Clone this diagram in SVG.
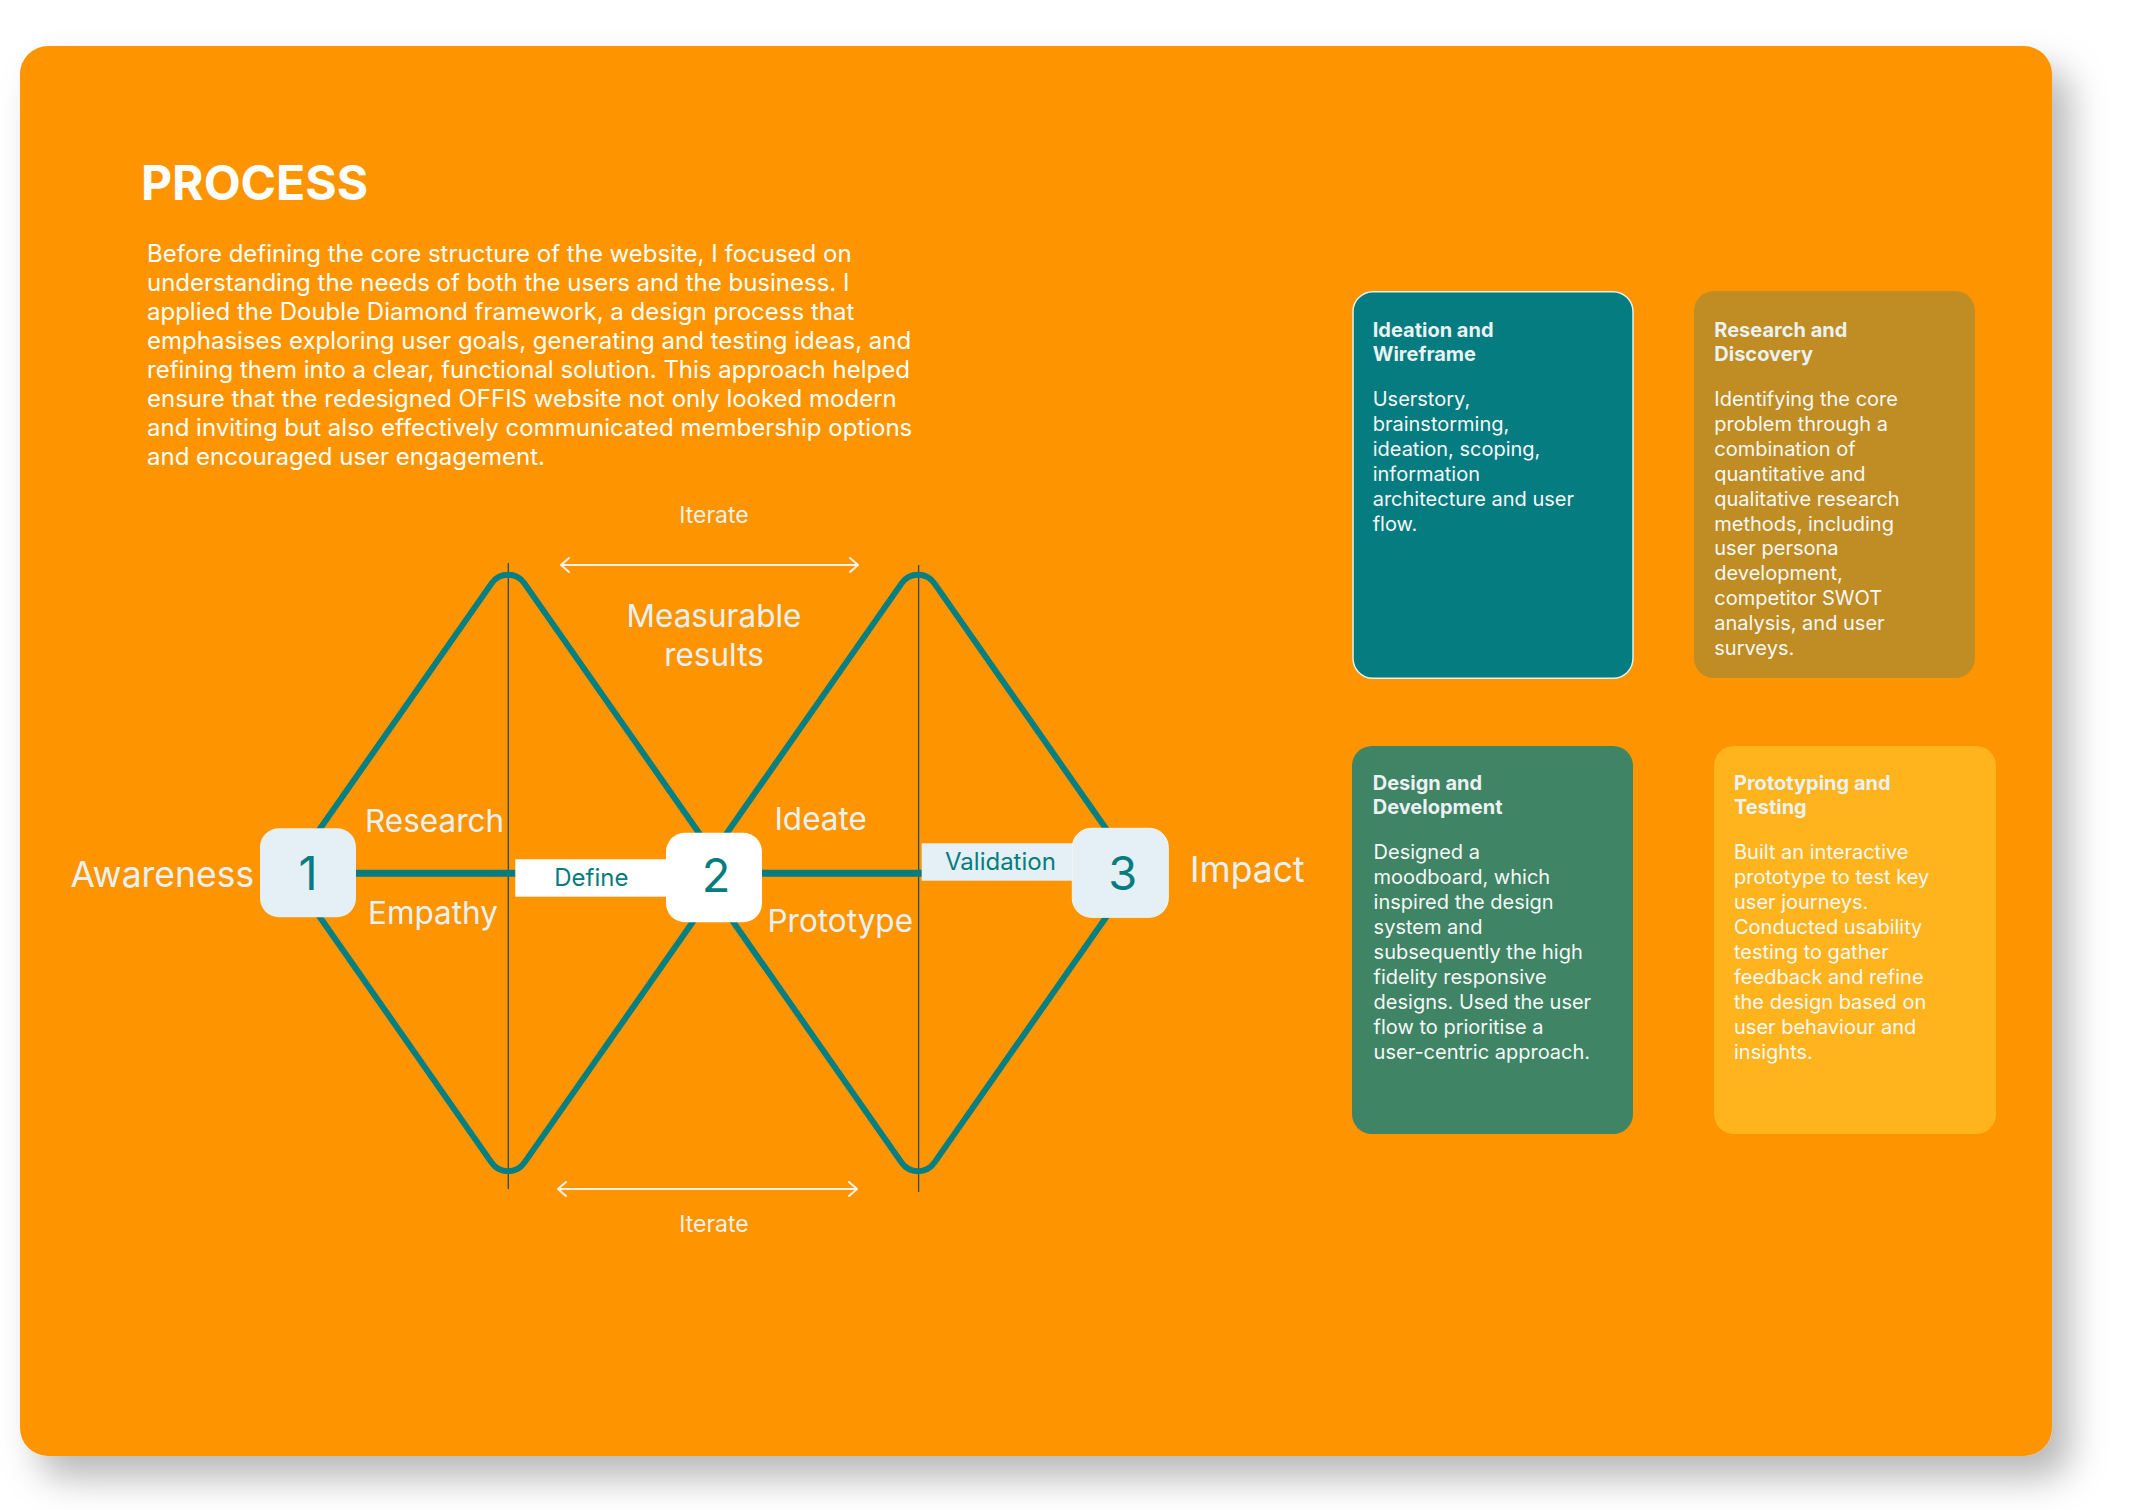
<svg xmlns="http://www.w3.org/2000/svg" width="2133" height="1510" viewBox="0 0 2133 1510">
<defs>
<filter id="shadow" x="-10%" y="-10%" width="120%" height="125%">
<feDropShadow dx="18" dy="22" stdDeviation="18" flood-color="#000" flood-opacity="0.28"/>
</filter>
<marker id="chev" viewBox="0 0 10 16" refX="9" refY="8" markerWidth="10" markerHeight="16" markerUnits="userSpaceOnUse" orient="auto-start-reverse">
<path d="M1,1 L9,8 L1,15" fill="none" stroke="#F6F1EA" stroke-width="2" stroke-linecap="round" stroke-linejoin="round"/>
</marker>
<style>
.f{font-family:Inter,"Noto Sans","Liberation Sans",sans-serif}
.para{font-size:24px;fill:#FFFFFF}
.lbl{font-size:31.5px;fill:#E6F1F5}
.big{font-size:35.5px;fill:#E6F1F5}
.it{font-size:23px;fill:#F4F0EA}
.num{font-size:47px;fill:#047C80}
.tag{font-size:24px;fill:#047C80}
.ct{font-size:20px;font-weight:700;fill:#EAF2F3}
.cb{font-size:20px;fill:#F6F8F8}
.dia{fill:none;stroke:#047F82;stroke-width:6;stroke-linejoin:round}
.vl{stroke:#2E4A5A;stroke-width:1.3}
.arr{stroke:#F6F1EA;stroke-width:2;fill:none}
.thick{stroke:#047C80;stroke-width:7}
</style>
</defs>
<rect x="0" y="0" width="2133" height="1510" fill="#FFFFFF"/>
<rect id="panel" x="20" y="46" width="2032" height="1410" rx="28" fill="#FE9502" filter="url(#shadow)"/>

<g id="header" class="f">
<text x="141" y="200" font-size="48" font-weight="700" fill="#FFFFFF">PROCESS</text>
<text class="para">
<tspan x="147" y="261.7">Before defining the core structure of the website, I focused on</tspan>
<tspan x="147" y="290.7">understanding the needs of both the users and the business. I</tspan>
<tspan x="147" y="319.7">applied the Double Diamond framework, a design process that</tspan>
<tspan x="147" y="348.7">emphasises exploring user goals, generating and testing ideas, and</tspan>
<tspan x="147" y="377.7">refining them into a clear, functional solution. This approach helped</tspan>
<tspan x="147" y="406.7">ensure that the redesigned OFFIS website not only looked modern</tspan>
<tspan x="147" y="435.7">and inviting but also effectively communicated membership options</tspan>
<tspan x="147" y="464.7">and encouraged user engagement.</tspan>
</text>
</g>

<g id="connectors">
<line class="vl" x1="508.3" y1="563" x2="508.3" y2="1189"/>
<line class="vl" x1="918.6" y1="565" x2="918.6" y2="1192"/>
<path id="diamond1" class="dia" d="M289,873 L491.6,583.4 A20,20 0 0 1 524.4,583.4 L727,873 L524.4,1162.6 A20,20 0 0 1 491.6,1162.6 Z"/>
<path id="diamond2" class="dia" d="M699,873 L901.6,583.4 A20,20 0 0 1 934.4,583.4 L1137,873 L934.4,1162.6 A20,20 0 0 1 901.6,1162.6 Z"/>
<line class="thick" x1="350" y1="873.3" x2="520" y2="873.3"/>
<line class="thick" x1="755" y1="873.3" x2="925" y2="873.3"/>
<line class="arr" x1="561" y1="565" x2="858" y2="565" marker-start="url(#chev)" marker-end="url(#chev)"/>
<line class="arr" x1="558" y1="1189" x2="857" y2="1189" marker-start="url(#chev)" marker-end="url(#chev)"/>
</g>

<g id="tag-define" class="f">
<rect x="515.3" y="859.3" width="160" height="37.4" fill="#FFFFFF"/>
<text class="tag" x="554.3" y="885.7">Define</text>
</g>
<g id="tag-validation" class="f">
<rect x="921.7" y="843.3" width="160" height="37.4" fill="#E4F0F6"/>
<text class="tag" x="945" y="870">Validation</text>
</g>

<g id="node1" class="f">
<rect x="260" y="828.3" width="96" height="89" rx="19" fill="#E4F0F6"/>
<text class="num" x="308" y="890" text-anchor="middle">1</text>
</g>
<g id="node2" class="f">
<rect x="666" y="832.7" width="96" height="89.6" rx="19" fill="#FFFFFF"/>
<text class="num" x="716" y="891.7" text-anchor="middle">2</text>
</g>
<g id="node3" class="f">
<rect x="1072.3" y="828.3" width="96" height="89" rx="19" fill="#E4F0F6" stroke="#F0F6F9" stroke-width="1"/>
<text class="num" x="1122.7" y="890" text-anchor="middle">3</text>
</g>

<g id="labels" class="f">
<text class="big" x="70.5" y="887.3">Awareness</text>
<text class="big" x="1190" y="881.7">Impact</text>
<text class="lbl" x="365" y="831.7">Research</text>
<text class="lbl" x="368" y="924">Empathy</text>
<text class="lbl" x="774.4" y="830">Ideate</text>
<text class="lbl" x="767.5" y="931.7">Prototype</text>
<text class="lbl" x="714" y="627.3" text-anchor="middle">Measurable</text>
<text class="lbl" x="714" y="666" text-anchor="middle">results</text>
<text class="it" x="714" y="523.3" text-anchor="middle">Iterate</text>
<text class="it" x="714" y="1231.7" text-anchor="middle">Iterate</text>
</g>

<g id="card-ideation" class="f">
<rect x="1353" y="291.7" width="280" height="386.6" rx="20" fill="#047C80" stroke="#E2F1F1" stroke-width="1.5"/>
<text class="ct"><tspan x="1372.7" y="336.7">Ideation and</tspan><tspan x="1372.7" y="360.7">Wireframe</tspan></text>
<text class="cb">
<tspan x="1372.7" y="406">Userstory,</tspan>
<tspan x="1372.7" y="430.9">brainstorming,</tspan>
<tspan x="1372.7" y="455.8">ideation, scoping,</tspan>
<tspan x="1372.7" y="480.7">information</tspan>
<tspan x="1372.7" y="505.6">architecture and user</tspan>
<tspan x="1372.7" y="530.5">flow.</tspan>
</text>
</g>

<g id="card-research" class="f">
<rect x="1694" y="291" width="281" height="387" rx="20" fill="#BF8D23"/>
<text class="ct"><tspan x="1714.3" y="336.7">Research and</tspan><tspan x="1714.3" y="360.7">Discovery</tspan></text>
<text class="cb">
<tspan x="1714.3" y="406">Identifying the core</tspan>
<tspan x="1714.3" y="430.9">problem through a</tspan>
<tspan x="1714.3" y="455.8">combination of</tspan>
<tspan x="1714.3" y="480.7">quantitative and</tspan>
<tspan x="1714.3" y="505.6">qualitative research</tspan>
<tspan x="1714.3" y="530.5">methods, including</tspan>
<tspan x="1714.3" y="555.4">user persona</tspan>
<tspan x="1714.3" y="580.3">development,</tspan>
<tspan x="1714.3" y="605.2">competitor SWOT</tspan>
<tspan x="1714.3" y="630.1">analysis, and user</tspan>
<tspan x="1714.3" y="655">surveys.</tspan>
</text>
</g>

<g id="card-design" class="f">
<rect x="1352" y="746" width="281" height="388" rx="20" fill="#3F8465"/>
<text class="ct"><tspan x="1372.7" y="790">Design and</tspan><tspan x="1372.7" y="814">Development</tspan></text>
<text class="cb">
<tspan x="1373.6" y="859.3">Designed a</tspan>
<tspan x="1373.6" y="884.3">moodboard, which</tspan>
<tspan x="1373.6" y="909.3">inspired the design</tspan>
<tspan x="1373.6" y="934.3">system and</tspan>
<tspan x="1373.6" y="959.3">subsequently the high</tspan>
<tspan x="1373.6" y="984.3">fidelity responsive</tspan>
<tspan x="1373.6" y="1009.3">designs. Used the user</tspan>
<tspan x="1373.6" y="1034.3">flow to prioritise a</tspan>
<tspan x="1373.6" y="1059.3">user-centric approach.</tspan>
</text>
</g>

<g id="card-prototyping" class="f">
<rect x="1714" y="746" width="282" height="388" rx="20" fill="#FFB41E"/>
<text class="ct"><tspan x="1734" y="790">Prototyping and</tspan><tspan x="1734" y="814">Testing</tspan></text>
<text class="cb">
<tspan x="1734" y="859.3">Built an interactive</tspan>
<tspan x="1734" y="884.3">prototype to test key</tspan>
<tspan x="1734" y="909.3">user journeys.</tspan>
<tspan x="1734" y="934.3">Conducted usability</tspan>
<tspan x="1734" y="959.3">testing to gather</tspan>
<tspan x="1734" y="984.3">feedback and refine</tspan>
<tspan x="1734" y="1009.3">the design based on</tspan>
<tspan x="1734" y="1034.3">user behaviour and</tspan>
<tspan x="1734" y="1059.3">insights.</tspan>
</text>
</g>
</svg>
